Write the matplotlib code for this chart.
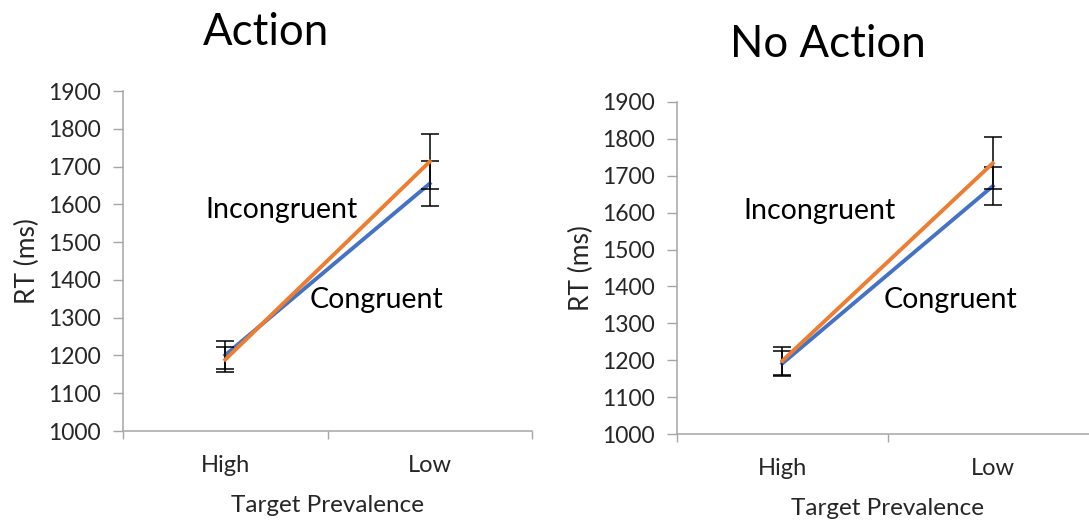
import matplotlib.pyplot as plt
import numpy as np

plt.rcParams['font.family'] = ['Lato', 'DejaVu Sans']

categories = ['High', 'Low']

# Action
action_congruent = [1201, 1655]
action_congruent_err = [37, 60]
action_incongruent = [1189, 1713]
action_incongruent_err = [33, 73]

# No Action
noaction_congruent = [1191, 1672]
noaction_congruent_err = [35, 52]
noaction_incongruent = [1198, 1734]
noaction_incongruent_err = [38, 71]

blue = '#4472C4'
orange = '#ED7D31'
grey = '#A6A6A6'
text_col = '#262626'

fig = plt.figure(figsize=(10.89, 5.21), dpi=100)

ax1 = fig.add_axes([123/1089, 1-431/521, 409/1089, 340/521])
ax2 = fig.add_axes([677/1089, 1-434/521, 421/1089, 332/521])


def draw_panel(ax, cong, cong_err, incong, incong_err, inc_pos, con_pos):
    x = np.arange(len(categories))
    ax.errorbar(x, cong, yerr=cong_err, color=blue, lw=2.8, ecolor='black',
                elinewidth=1.1, capsize=6.5, capthick=1.1, zorder=3)
    ax.errorbar(x, incong, yerr=incong_err, color=orange, lw=2.8, ecolor='black',
                elinewidth=1.1, capsize=6.5, capthick=1.1, zorder=4)
    ax.set_xlim(-0.5, 1.5)
    ax.set_ylim(1000, 1900)
    ax.set_yticks(np.arange(1000, 1901, 100))
    ax.set_xticks(x)
    ax.set_xticklabels(categories)
    ax.set_xticks([-0.5, 0.5, 1.5], minor=True)
    ax.tick_params(axis='x', which='major', length=0, pad=17, labelsize=17,
                   labelcolor=text_col)
    ax.tick_params(axis='x', which='minor', length=6, width=1, color=grey,
                   direction='out')
    ax.tick_params(axis='y', length=7, width=1, color=grey, labelsize=16.5,
                   labelcolor=text_col, pad=9)
    for s in ['top', 'right']:
        ax.spines[s].set_visible(False)
    for s in ['left', 'bottom']:
        ax.spines[s].set_color(grey)
        ax.spines[s].set_linewidth(1.1)
    ax.set_xlabel('Target Prevalence', fontsize=17.5, color=text_col, labelpad=14)
    ax.set_ylabel('RT (ms)', fontsize=19, color=text_col, labelpad=6)
    ax.text(inc_pos[0], inc_pos[1], 'Incongruent', fontsize=20.5, va='center',
            ha='left', color='black')
    ax.text(con_pos[0], con_pos[1], 'Congruent', fontsize=20.5, va='center',
            ha='left', color='black')


draw_panel(ax1, action_congruent, action_congruent_err, action_incongruent,
           action_incongruent_err, (-0.099, 1585), (0.414, 1347))
draw_panel(ax2, noaction_congruent, noaction_congruent_err, noaction_incongruent,
           noaction_incongruent_err, (-0.186, 1604), (0.481, 1363))

fig.text(266/1089, 1-45/521, 'Action', fontsize=31.5, ha='center', va='baseline')
fig.text(828/1089, 1-57/521, 'No Action', fontsize=31.5, ha='center', va='baseline')

fig.savefig('out.png', dpi=100)
